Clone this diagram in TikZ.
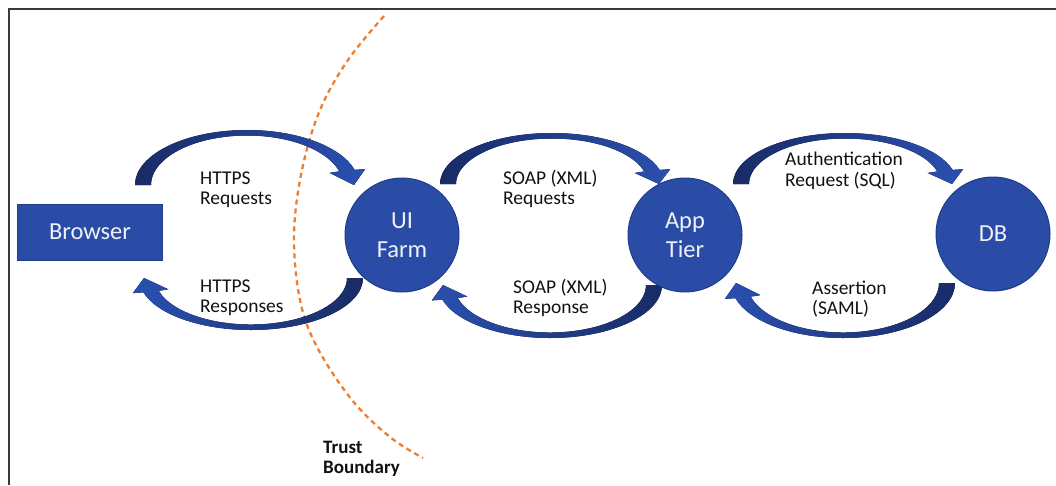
\documentclass[tikz,border=0pt]{standalone}
\usepackage{fontspec}
\setmainfont{Carlito}
\usetikzlibrary{calc}
\definecolor{nodeblue}{HTML}{2B4CA6}
\definecolor{nodeedge}{HTML}{1F3C8A}
\definecolor{arrdark}{HTML}{182B66}
\definecolor{arrlight}{HTML}{2A50B0}
\definecolor{tborange}{HTML}{ED7D31}
\definecolor{framegray}{HTML}{3A3A3A}
\definecolor{labelcol}{HTML}{111111}
\definecolor{nodetext}{HTML}{EEF1F8}

\newcommand\blockarc[5]{% cx, cy, angle offset, outer y radius, fill/shading
  \pgfmathsetmacro\rOy{#4}
  \pgfmathsetmacro\rIy{#4-5.5}
  \pgfmathsetmacro\rHo{#4+3}
  \pgfmathsetmacro\rHi{#4-11}
  \pgfmathsetmacro\aS{180+#3}
  \pgfmathsetmacro\aE{344+#3}
  \pgfmathsetmacro\aT{360+#3}
  \fill[#5] ($(#1,#2)+(\aS:112 and \rOy)$)
      arc[start angle=\aS, end angle=\aE, x radius=112, y radius=\rOy]
    -- ($(#1,#2)+(\aE:123 and \rHo)$)
    -- ($(#1,#2)+(\aT:107 and 1)$)
    -- ($(#1,#2)+(\aE:86 and \rHi)$)
    -- ($(#1,#2)+(\aE:96 and \rIy)$)
      arc[start angle=\aE, end angle=\aS, x radius=96, y radius=\rIy]
    -- cycle;
}
\newcommand\twoline[2]{\begin{tabular}[t]{@{}l@{}}#1\\#2\end{tabular}}

\tikzset{
  circnode/.style={circle, fill=nodeblue, draw=nodeedge, line width=1pt,
    minimum size=114pt, inner sep=0pt, align=center, text=nodetext,
    font=\fontsize{24.5}{29}\selectfont},
  rectnode/.style={rectangle, fill=nodeblue, draw=nodeedge, line width=1pt,
    minimum width=145pt, minimum height=56pt, inner sep=0pt, text=nodetext,
    font=\fontsize{24.5}{29}\selectfont},
  lbl/.style={anchor=base west, inner sep=0pt, text=labelcol,
    font=\fontsize{19.5}{20.5}\selectfont},
  toparrow/.style={left color=arrdark, right color=arrlight},
  botarrow/.style={left color=arrlight, right color=arrdark},
  tb/.style={draw=tborange, line width=2.3pt, dash pattern=on 5pt off 4pt},
  frameline/.style={draw=framegray, line width=2pt}
}

\begin{document}
\begin{tikzpicture}[x=1pt, y=-1pt]
\useasboundingbox (0,0) rectangle (1056,485);

% frame
\draw[frameline] (8.5,485) -- (8.5,8.5) -- (1056,8.5);

% trust boundary
\draw[tb] plot[smooth, tension=0.6] coordinates
  {(384,16) (348,60) (320,110) (302,170) (294,235) (300,300) (317,347) (352,400) (390,437) (423,458)};

% curved block arrows
\blockarc{247}{185}{0}{55}{toparrow}
\blockarc{552}{184}{0}{51}{toparrow}
\blockarc{845}{184}{0}{51}{toparrow}
\blockarc{251}{278}{180}{52}{botarrow}
\blockarc{550}{285}{180}{53}{botarrow}
\blockarc{843}{283}{180}{55}{botarrow}

% nodes
\node[rectnode] (browser) at (90,232) {Browser};
\node[circnode] (ui) at (402,235) {UI\\Farm};
\node[circnode] (app) at (685,235) {App\\Tier};
\node[circnode] (db) at (993,234) {DB};

% labels
\node[lbl] (l1) at (200,184) {\twoline{HTTPS}{Requests}};
\node[lbl] (l2) at (200,292) {\twoline{HTTPS}{Responses}};
\node[lbl] (l3) at (503,184) {\twoline{SOAP (XML)}{Requests}};
\node[lbl] (l4) at (513,293) {\twoline{SOAP (XML)}{Response}};
\node[lbl] (l5) at (785,165.5) {\twoline{Authentication}{Request (SQL)}};
\node[lbl] (l6) at (812,294) {\twoline{Assertion}{(SAML)}};
\node[lbl, font=\fontsize{19}{20.5}\selectfont\bfseries] (tbl) at (323,453) {\twoline{Trust}{Boundary}};
\end{tikzpicture}
\end{document}
